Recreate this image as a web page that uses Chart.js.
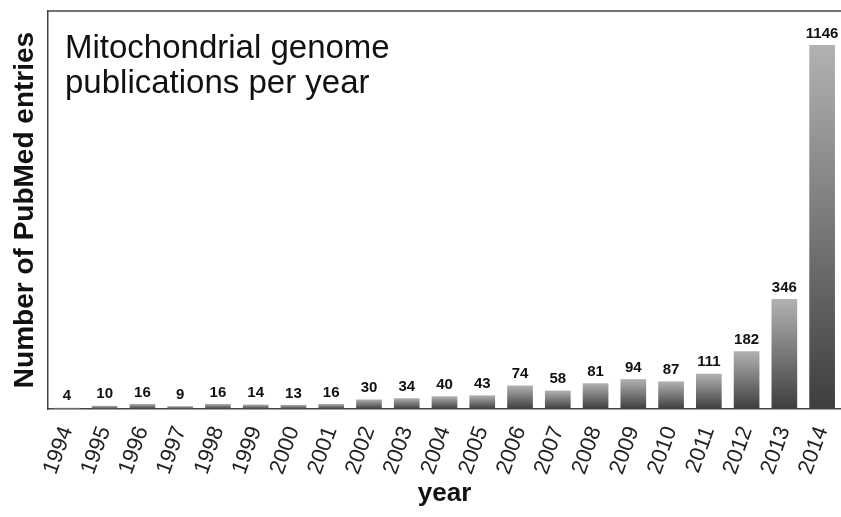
<!DOCTYPE html>
<html>
<head>
<meta charset="utf-8">
<script src="https://cdn.jsdelivr.net/npm/chart.js@4"></script>
<style>
  html, body { margin: 0; padding: 0; background: #fff; }
  #wrap { width: 841px; height: 517px; }
</style>
</head>
<body>
<div id="wrap"><canvas id="c"></canvas></div>
<script>
const years = ['1994', '1995', '1996', '1997', '1998', '1999', '2000', '2001', '2002', '2003', '2004',
  '2005', '2006', '2007', '2008', '2009', '2010', '2011', '2012', '2013', '2014'];
const entries = [4, 10, 16, 9, 16, 14, 13, 16, 30, 34, 40, 43, 74, 58, 81, 94, 87, 111, 182, 346, 1146];
const titleLines = ['Mitochondrial genome', 'publications per year'];

const FONT = 'Liberation Sans, Arial, sans-serif';

// gradient per bar: dark at the base, light at the top
function barFill(ctx) {
  const chart = ctx.chart;
  const y = chart.scales.y;
  if (!y || !chart.chartArea || ctx.raw === undefined) return '#777';
  const top = y.getPixelForValue(ctx.raw);
  const base = y.getPixelForValue(0);
  if (!isFinite(top) || base - top < 1) return '#777';
  const g = chart.ctx.createLinearGradient(0, base, 0, top);
  g.addColorStop(0, '#3e3e3e');
  g.addColorStop(1, '#b2b2b2');
  return g;
}

const decoPlugin = {
  id: 'deco',
  afterDatasetsDraw(chart) {
    const c = chart.ctx;
    const a = chart.chartArea;
    const meta = chart.getDatasetMeta(0);
    c.save();
    // value labels
    c.font = 'bold 15px ' + FONT;
    c.fillStyle = '#111';
    c.textAlign = 'center';
    c.textBaseline = 'bottom';
    meta.data.forEach((bar, i) => c.fillText(String(entries[i]), bar.x, bar.y - 4));
    // top frame line
    c.strokeStyle = '#444';
    c.lineWidth = 1.5;
    c.beginPath();
    c.moveTo(a.left, a.top);
    c.lineTo(chart.width, a.top);
    c.stroke();
    // title inside plot
    c.font = '33px ' + FONT;
    c.textAlign = 'left';
    c.textBaseline = 'alphabetic';
    titleLines.forEach((t, i) => c.fillText(t, a.left + 17, 58 + i * 35));
    c.restore();
  },
};

new Chart(document.getElementById('c'), {
  type: 'bar',
  data: {
    labels: years,
    datasets: [{
      data: entries,
      backgroundColor: barFill,
      borderWidth: 0,
      categoryPercentage: 0.68,
      barPercentage: 1,
    }],
  },
  plugins: [decoPlugin],
  options: {
    responsive: true, maintainAspectRatio: false, animation: false,
    layout: { padding: { top: 11, right: 0, left: 0, bottom: 0 } },
    plugins: { legend: { display: false }, tooltip: { enabled: false } },
    scales: {
      x: {
        grid: { display: false, drawTicks: false },
        border: { color: '#444', width: 1.5 },
        ticks: {
          color: '#222', font: { family: FONT, size: 22 },
          maxRotation: 70, minRotation: 70, autoSkip: false, padding: 14,
        },
        title: { display: true, text: 'year', color: '#111', font: { family: FONT, size: 26, weight: 'bold' }, padding: { top: 0, bottom: 8 } },
        afterFit: (s) => { s.height = 108; s.paddingRight = 0; s.paddingLeft = 0; },
      },
      y: {
        min: 0, max: 1253,
        grid: { display: false, drawTicks: false },
        border: { color: '#444', width: 1.5 },
        ticks: { display: false },
        title: { display: true, text: 'Number of PubMed entries', color: '#111', font: { family: FONT, size: 28, weight: 'bold' }, padding: { top: 8, bottom: 0 } },
        afterFit: (s) => { s.width = 48; },
      },
    },
  },
});
</script>
</body>
</html>
